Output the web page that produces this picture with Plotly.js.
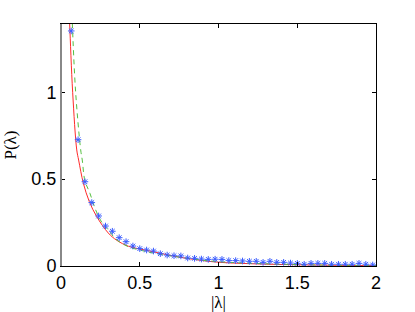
<!DOCTYPE html>
<html>
<head>
<meta charset="utf-8">
<script src="https://cdn.plot.ly/plotly-3.0.1.min.js"></script>
<style>html,body{margin:0;padding:0;background:#fff}#chart{width:415px;height:312px}</style>
</head>
<body>
<div id="chart"></div>
<script>
// Empirical histogram (stars)
const starX = [0.065,0.1085,0.152,0.1955,0.239,0.2825,0.326,0.3695,0.413,0.4565,0.50,0.5435,0.587,0.6305,0.674,0.7175,0.761,0.8045,0.848,0.8915,0.935,0.9785,1.022,1.0655,1.109,1.1525,1.196,1.2395,1.283,1.3265,1.37,1.4135,1.457,1.5005,1.544,1.5875,1.631,1.6745,1.718,1.7615,1.805,1.8485,1.892,1.9355,1.979];
const starY = [1.353,0.727,0.485,0.365,0.288,0.23,0.20,0.163,0.14,0.115,0.10,0.092,0.086,0.071,0.063,0.059,0.058,0.046,0.044,0.040,0.038,0.039,0.038,0.031,0.031,0.029,0.027,0.027,0.021,0.027,0.021,0.021,0.017,0.015,0.010,0.015,0.015,0.015,0.010,0.010,0.010,0.010,0.015,0.010,0.006];
// Red solid curve
const redX = [0.050,0.055,0.074,0.100,0.112,0.142,0.180,0.227,0.300,0.354,0.430,0.500,0.586,0.700,0.798,0.900,1.010,1.250,1.500,1.750,2.000];
const redY = [1.50,1.393,1.00,0.668,0.61,0.476,0.37,0.284,0.19,0.148,0.113,0.098,0.082,0.060,0.044,0.031,0.021,0.012,0.007,0.004,0.002];
// Green dashed curve
const greenX = [0.068,0.072,0.093,0.125,0.135,0.152,0.184,0.216,0.260,0.311,0.343,0.427,0.500,0.600,0.800,1.000,1.500,2.000];
const greenY = [1.50,1.393,1.00,0.668,0.61,0.49,0.418,0.332,0.25,0.197,0.159,0.111,0.092,0.072,0.045,0.025,0.008,0.003];
const xTicks = [0,0.5,1,1.5,2];
const xTickText = ['0','0.5','1','1.5','2'];
const yTicks = [0,0.5,1];
const yTickText = ['0','0.5','1'];

const traces = [
  {x: redX, y: redY, mode: 'lines', line: {color: '#ff2a2a', width: 1, shape: 'spline'}, hoverinfo: 'skip'},
  {x: greenX, y: greenY, mode: 'lines', line: {color: '#55c040', width: 1, dash: '5px,4px', shape: 'spline'}, hoverinfo: 'skip'},
  {x: starX, y: starY, mode: 'markers', marker: {symbol: 'asterisk-open', size: 5.5, color: '#3a5cff', line: {color: '#3a5cff', width: 1}}, hoverinfo: 'skip'}
];

const axisFont = {family: 'Liberation Sans, Arial, sans-serif', size: 18, color: '#000'};
const titleFont = {family: 'Liberation Serif, Times New Roman, serif', size: 17, color: '#000000'};
const layout = {
  width: 415, height: 312,
  font: {color: '#000000', family: 'Liberation Sans, Arial, sans-serif'},
  margin: {l: 61, r: 39, t: 24, b: 46, pad: 0},
  paper_bgcolor: '#fff', plot_bgcolor: '#fff',
  showlegend: false,
  xaxis: {
    range: [0, 2], tickvals: xTicks, ticktext: xTickText,
    ticks: 'inside', ticklen: 4, tickcolor: '#000', tickwidth: 1,
    showline: true, linecolor: '#000', linewidth: 1, mirror: 'ticks',
    showgrid: false, zeroline: false, tickfont: axisFont,
    title: {text: '|λ|', font: titleFont, standoff: 1}
  },
  yaxis: {
    range: [0, 1.393], tickvals: yTicks, ticktext: yTickText,
    ticks: 'inside', ticklen: 4, tickcolor: '#000', tickwidth: 1,
    showline: true, linecolor: '#000', linewidth: 1, mirror: 'ticks',
    showgrid: false, zeroline: false, tickfont: axisFont,
    title: {text: 'P(λ)', font: titleFont, standoff: 10}
  },
  shapes: [
    {type: 'line', xref: 'paper', yref: 'paper', x0: 0, x1: 0, y0: 0, y1: 1, line: {color: '#888', width: 2}}
  ]
};
Plotly.newPlot('chart', traces, layout, {staticPlot: true, displayModeBar: false});
</script>
</body>
</html>
